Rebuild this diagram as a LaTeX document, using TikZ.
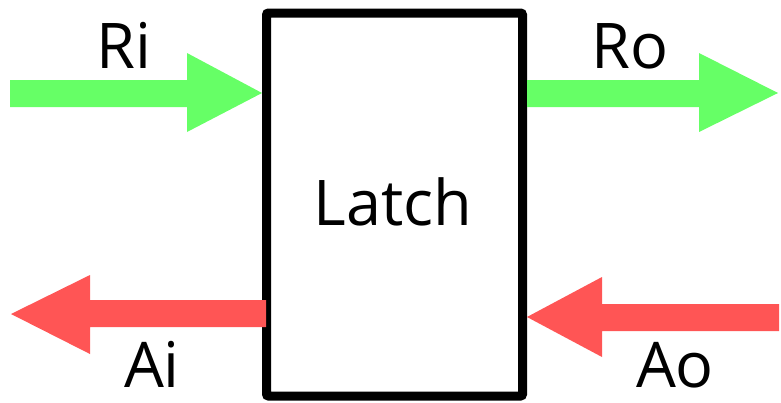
\documentclass[tikz,border=0pt]{standalone}
\usepackage{fontspec}
\setmainfont{Open Sans}
\begin{document}
\begin{tikzpicture}[x=1pt,y=-1pt,
  signal/.style={font=\fontsize{63}{63}\selectfont, anchor=base, inner sep=0pt},
  latchbox/.style={draw=black, line width=9pt, rounded corners=2pt},
  req/.style={fill=reqgreen},
  ack/.style={fill=ackred}]
\definecolor{reqgreen}{RGB}{102,255,102}
\definecolor{ackred}{RGB}{255,85,85}
\useasboundingbox (0,0) rectangle (781,402);

% latch block
\draw[latchbox] (266.5,13) rectangle (522.5,396);
\node[signal] (latch) at (393,225) {Latch};

% request in / out (green block arrows)
\fill[req] (10,80) -- (187,80) -- (187,53) -- (262,93) -- (187,132) -- (187,107) -- (10,107) -- cycle;
\fill[req] (527,80) -- (699,80) -- (699,53) -- (778,93) -- (699,132) -- (699,107) -- (527,107) -- cycle;

% acknowledge in / out (red block arrows)
\fill[ack] (266,300) -- (90,300) -- (90,275) -- (11,314) -- (90,354) -- (90,327) -- (266,327) -- cycle;
\fill[ack] (779,304) -- (602,304) -- (602,277) -- (527,317) -- (602,357) -- (602,331) -- (779,331) -- cycle;

% signal labels
\node[signal] (ri) at (124,68) {Ri};
\node[signal] (ro) at (630,68) {Ro};
\node[signal] (ai) at (152,387) {Ai};
\node[signal] (ao) at (675,387) {Ao};
\end{tikzpicture}
\end{document}
